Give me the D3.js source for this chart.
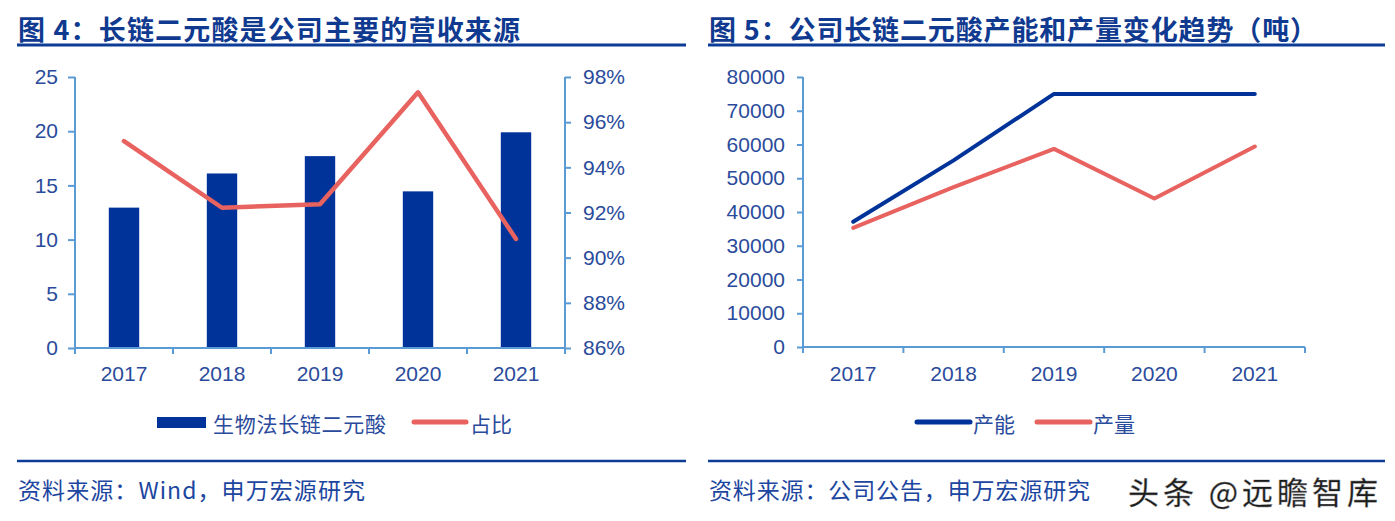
<!DOCTYPE html>
<html>
<head>
<meta charset="utf-8">
<script src="https://cdn.jsdelivr.net/npm/d3@7"></script>
<style>
  html, body { margin: 0; padding: 0; background: #fff; }
  svg { display: block; }
  text { font-family: "Liberation Sans", Arial, "Noto Sans CJK SC", sans-serif; }
  .cjk { font-family: "Noto Sans CJK SC", "Liberation Sans", sans-serif; }
</style>
</head>
<body>
<svg id="chart" width="1395" height="521"></svg>
<script>
// ---------------- Data ----------------
const years = ["2017", "2018", "2019", "2020", "2021"];
// Figure 4: revenue of bio-based long-chain dibasic acid (left axis) and share (right axis)
const revenue = [12.95, 16.1, 17.7, 14.45, 19.9];
const share = [0.9516, 0.9221, 0.9237, 0.9732, 0.9083];
const leftTicks = [0, 5, 10, 15, 20, 25];
const shareTicks = [0.86, 0.88, 0.90, 0.92, 0.94, 0.96, 0.98];
// Figure 5: capacity and output (tonnes)
const capacity = [37100, 55300, 75000, 75000, 75000];
const output = [35300, 47400, 58700, 44000, 59400];
const tonTicks = [0, 10000, 20000, 30000, 40000, 50000, 60000, 70000, 80000];

const title4 = "图 4：长链二元酸是公司主要的营收来源";
const title5 = "图 5：公司长链二元酸产能和产量变化趋势（吨）";
const source4 = "资料来源：Wind，申万宏源研究";
const source5 = "资料来源：公司公告，申万宏源研究";
const legend4 = ["生物法长链二元酸", "占比"];
const legend5 = ["产能", "产量"];
const watermark = "头条 @远瞻智库";

// ---------------- Styles ----------------
const C = {
  navy: "#0c3c96",
  bar: "#003399",
  red: "#e8625f",
  axis: "#5b9bd5",
  label: "#2a4b9b",
  title: "#0f3a90"
};

const svg = d3.select("#chart");

// ---------- Headers & footers ----------
function frame(x0, x1, title, titleLen, source, sourceLen) {
  svg.append("text").attr("class", "cjk")
    .attr("x", x0 + 1).attr("y", 28)
    .attr("dominant-baseline", "central")
    .attr("font-size", 27).attr("font-weight", "bold")
    .attr("textLength", titleLen).attr("lengthAdjust", "spacing")
    .attr("fill", C.title).text(title);
  svg.append("line").attr("x1", x0).attr("x2", x1).attr("y1", 45).attr("y2", 45)
    .attr("stroke", C.navy).attr("stroke-width", 3);
  svg.append("line").attr("x1", x0).attr("x2", x1).attr("y1", 461).attr("y2", 461)
    .attr("stroke", C.navy).attr("stroke-width", 2.5);
  svg.append("text").attr("class", "cjk")
    .attr("x", x0 + 1).attr("y", 489)
    .attr("dominant-baseline", "central")
    .attr("textLength", sourceLen).attr("lengthAdjust", "spacing")
    .attr("font-size", 23).attr("fill", "#1c46a0").text(source);
}
frame(17, 686, title4, 502, source4, 347);
frame(708, 1385, title5, 608, source5, 381);

svg.append("text").attr("class", "cjk")
  .attr("x", 1128).attr("y", 490)
  .attr("dominant-baseline", "central")
  .attr("font-size", 31).attr("fill", "#1a1a1a")
  .attr("stroke", "#888").attr("stroke-width", 0.4)
  .attr("textLength", 250).attr("lengthAdjust", "spacing")
  .text(watermark);

function styleAxis(g) {
  g.selectAll(".domain").attr("stroke", C.axis).attr("stroke-width", 2);
  g.selectAll(".tick line").attr("stroke", C.axis).attr("stroke-width", 2);
  g.selectAll(".tick text").attr("fill", C.label).attr("font-size", 21)
    .attr("font-family", "'Liberation Sans', Arial, sans-serif");
}

function xAxisWithBoundaryTicks(x, y0) {
  const g = svg.append("g");
  const r = x.range();
  g.append("line").attr("x1", r[0]).attr("x2", r[1]).attr("y1", y0).attr("y2", y0)
    .attr("stroke", C.axis).attr("stroke-width", 2);
  const bounds = years.map(d => x(d)).concat([r[1]]);
  g.selectAll("line.tk").data(bounds).join("line").attr("class", "tk")
    .attr("x1", d => d).attr("x2", d => d).attr("y1", y0).attr("y2", y0 + 6)
    .attr("stroke", C.axis).attr("stroke-width", 2);
  g.selectAll("text").data(years).join("text")
    .attr("x", d => x(d) + x.bandwidth() / 2).attr("y", 373)
    .attr("text-anchor", "middle").attr("dominant-baseline", "central")
    .attr("font-size", 21).attr("fill", C.label).text(d => d);
}

// ---------------- Figure 4 ----------------
{
  const x = d3.scaleBand().domain(years).range([75, 565]).padding(0);
  const y = d3.scaleLinear().domain([0, 25]).range([348, 77]);
  const y2 = d3.scaleLinear().domain([0.86, 0.98]).range([348, 77]);
  const bw = x.bandwidth() * 0.31;

  svg.append("g").selectAll("rect").data(years).join("rect")
    .attr("x", (d) => x(d) + (x.bandwidth() - bw) / 2)
    .attr("y", (d, i) => y(revenue[i]))
    .attr("width", bw)
    .attr("height", (d, i) => y(0) - y(revenue[i]))
    .attr("fill", C.bar);

  const gl = svg.append("g").attr("transform", "translate(75,0)")
    .call(d3.axisLeft(y).tickValues(leftTicks).tickSize(7).tickPadding(10).tickFormat(d3.format("d")));
  styleAxis(gl);
  const gr = svg.append("g").attr("transform", "translate(565,0)")
    .call(d3.axisRight(y2).tickValues(shareTicks).tickSize(6).tickPadding(12).tickFormat(d3.format(".0%")));
  styleAxis(gr);
  gl.select(".domain").attr("d", "M0,77V348");
  gr.select(".domain").attr("d", "M0,77V348");

  xAxisWithBoundaryTicks(x, 348);

  const line = d3.line()
    .x((d, i) => x(years[i]) + x.bandwidth() / 2)
    .y(d => y2(d));
  svg.append("path").datum(share).attr("d", line)
    .attr("fill", "none").attr("stroke", C.red).attr("stroke-width", 4.5)
    .attr("stroke-linejoin", "round").attr("stroke-linecap", "round");

  // legend
  svg.append("rect").attr("x", 157).attr("y", 417).attr("width", 49).attr("height", 11).attr("fill", C.bar);
  svg.append("text").attr("class", "cjk").attr("x", 213).attr("y", 423)
    .attr("dominant-baseline", "central").attr("font-size", 21).attr("fill", C.label)
    .attr("textLength", 173).attr("lengthAdjust", "spacing").text(legend4[0]);
  svg.append("line").attr("x1", 414).attr("x2", 466).attr("y1", 422).attr("y2", 422)
    .attr("stroke", C.red).attr("stroke-width", 5).attr("stroke-linecap", "round");
  svg.append("text").attr("class", "cjk").attr("x", 470).attr("y", 423)
    .attr("dominant-baseline", "central").attr("font-size", 21).attr("fill", C.label).text(legend4[1]);
}

// ---------------- Figure 5 ----------------
{
  const x = d3.scaleBand().domain(years).range([803, 1305]).padding(0);
  const y = d3.scaleLinear().domain([0, 80000]).range([347, 77]);

  const gl = svg.append("g").attr("transform", "translate(803,0)")
    .call(d3.axisLeft(y).tickValues(tonTicks).tickSize(6).tickPadding(12).tickFormat(d3.format("d")));
  styleAxis(gl);
  gl.select(".domain").attr("d", "M0,77V347");

  xAxisWithBoundaryTicks(x, 347);

  const line = d3.line().x((d, i) => x(years[i]) + x.bandwidth() / 2).y(d => y(d));
  svg.append("path").datum(output).attr("d", line)
    .attr("fill", "none").attr("stroke", C.red).attr("stroke-width", 4)
    .attr("stroke-linejoin", "round").attr("stroke-linecap", "round");
  svg.append("path").datum(capacity).attr("d", line)
    .attr("fill", "none").attr("stroke", C.bar).attr("stroke-width", 4)
    .attr("stroke-linejoin", "round").attr("stroke-linecap", "round");

  svg.append("line").attr("x1", 917).attr("x2", 970).attr("y1", 422).attr("y2", 422)
    .attr("stroke", C.bar).attr("stroke-width", 5).attr("stroke-linecap", "round");
  svg.append("text").attr("class", "cjk").attr("x", 973).attr("y", 423)
    .attr("dominant-baseline", "central").attr("font-size", 21).attr("fill", C.label).text(legend5[0]);
  svg.append("line").attr("x1", 1037).attr("x2", 1090).attr("y1", 422).attr("y2", 422)
    .attr("stroke", C.red).attr("stroke-width", 5).attr("stroke-linecap", "round");
  svg.append("text").attr("class", "cjk").attr("x", 1093).attr("y", 423)
    .attr("dominant-baseline", "central").attr("font-size", 21).attr("fill", C.label).text(legend5[1]);
}
</script>
</body>
</html>
